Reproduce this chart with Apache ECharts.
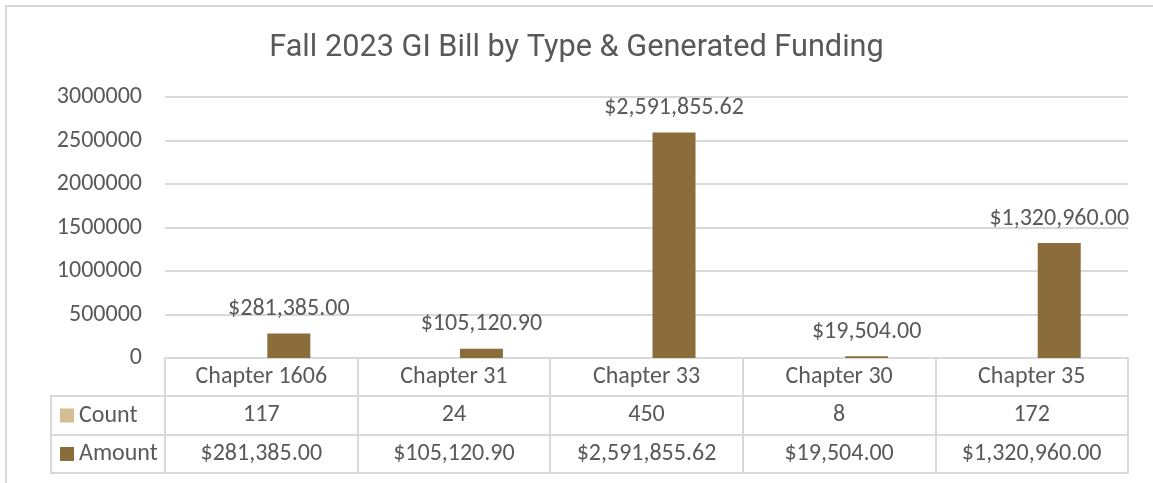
<!DOCTYPE html>
<html>
<head>
<meta charset="utf-8">
<script src="https://cdn.jsdelivr.net/npm/echarts@6/dist/echarts.min.js"></script>
<style>
  html, body { margin: 0; padding: 0; background: #ffffff; }
  #chart { width: 1153px; height: 483px; }
</style>
</head>
<body>
<div id="chart"></div>
<script>
// ---- data ----
const categories = ['Chapter 1606', 'Chapter 31', 'Chapter 33', 'Chapter 30', 'Chapter 35'];
const counts = [117, 24, 450, 8, 172];
const amounts = [281385.00, 105120.90, 2591855.62, 19504.00, 1320960.00];
const yMin = 0, yMax = 3000000, yStep = 500000;
const titleText = 'Fall 2023 GI Bill by Type & Generated Funding';

function money(v) {
  const fixed = v.toFixed(2);
  const parts = fixed.split('.');
  parts[0] = parts[0].replace(/\B(?=(\d{3})+(?!\d))/g, ',');
  return '$' + parts.join('.');
}

const FONT = 'Calibri, Carlito, Lato, sans-serif';
const FS = 24;
const LH = 25;
const TXT = '#595959';
const LINE = '#d9d9d9';
const cCount = '#D3BD91';
const cAmount = '#8B6D3C';

const chart = echarts.init(document.getElementById('chart'), null, { renderer: 'canvas' });

function tableAxis(offset, formatter, showTick, showLabel) {
  return {
    type: 'category',
    data: categories,
    position: 'bottom',
    offset: offset,
    boundaryGap: true,
    axisLine: { show: true, lineStyle: { color: LINE, width: 2 } },
    axisTick: { show: showTick, length: 38, interval: 0, alignWithLabel: false, lineStyle: { color: LINE, width: 2 } },
    axisLabel: {
      show: showLabel, interval: 0, margin: 6.5, color: TXT,
      fontFamily: FONT, fontSize: FS, lineHeight: LH,
      formatter: formatter
    },
    splitLine: { show: false }
  };
}

chart.setOption({
  animation: false,
  backgroundColor: '#ffffff',
  title: {
    text: titleText,
    left: 'center',
    top: 30,
    padding: [0, 0, 0, 22],
    textStyle: { color: TXT, fontFamily: 'Roboto, sans-serif', fontWeight: 'normal', fontSize: 30.7, lineHeight: 36 }
  },
  legend: {
    orient: 'vertical',
    left: 60,
    top: 403,
    padding: 0,
    itemWidth: 14,
    itemHeight: 14,
    itemGap: 13.5,
    selectedMode: false,
    icon: 'rect',
    data: ['Count', 'Amount'],
    textStyle: { color: TXT, fontFamily: FONT, fontSize: FS, lineHeight: LH }
  },
  grid: { left: 165, right: 25, top: 97, bottom: 125, containLabel: false },
  xAxis: [
    tableAxis(0, (v) => v, true, true),
    tableAxis(38, (v, i) => String(counts[i]), true, true),
    tableAxis(77, (v, i) => money(amounts[i]), true, true),
    tableAxis(115, (v) => v, false, false)
  ],
  yAxis: {
    type: 'value',
    min: yMin, max: yMax, interval: yStep,
    axisLine: { show: false },
    axisTick: { show: false },
    axisLabel: { color: TXT, fontFamily: FONT, fontSize: FS, margin: 23, formatter: (v) => String(v) },
    splitLine: { lineStyle: { color: LINE, width: 2 } }
  },
  graphic: [
    { type: 'rect', silent: true, z: -1, shape: { x: 6, y: 6, width: 1200, height: 520 }, style: { fill: null, stroke: LINE, lineWidth: 2 } },
    { type: 'rect', silent: true, shape: { x: 51, y: 396, width: 114, height: 77 }, style: { fill: null, stroke: LINE, lineWidth: 2 } },
    { type: 'line', silent: true, shape: { x1: 51, y1: 435, x2: 165, y2: 435 }, style: { stroke: LINE, lineWidth: 2 } }
  ],
  series: [
    {
      name: 'Count', type: 'bar', xAxisIndex: 0,
      data: counts, barWidth: 43, barGap: '28%',
      itemStyle: { color: cCount }
    },
    {
      name: 'Amount', type: 'bar', xAxisIndex: 0,
      data: amounts, barWidth: 43, barGap: '28%',
      itemStyle: { color: cAmount },
      label: {
        show: true, position: 'top', distance: 12,
        color: TXT, fontFamily: FONT, fontSize: FS, lineHeight: LH,
        formatter: (p) => money(p.value)
      }
    }
  ]
});
</script>
</body>
</html>
